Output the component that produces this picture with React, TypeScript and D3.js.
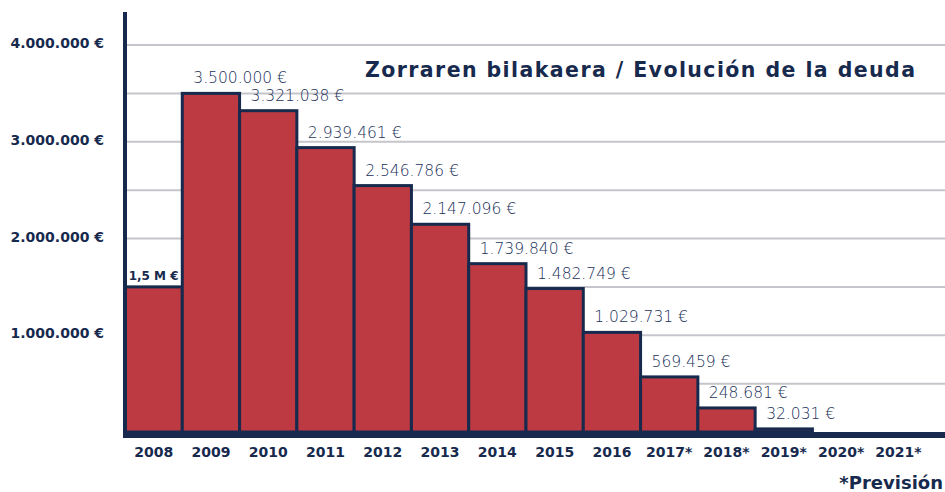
import React from "react";
import * as d3 from "d3";

const years = ["2008", "2009", "2010", "2011", "2012", "2013", "2014", "2015", "2016", "2017*", "2018*", "2019*", "2020*", "2021*"];
const debt = [1500000, 3500000, 3321038, 2939461, 2546786, 2147096, 1739840, 1482749, 1029731, 569459, 248681, 32031, 0, 0];
const valueLabels = ["1,5 M €", "3.500.000 €", "3.321.038 €", "2.939.461 €", "2.546.786 €", "2.147.096 €", "1.739.840 €", "1.482.749 €", "1.029.731 €", "569.459 €", "248.681 €", "32.031 €", "", ""];
const yTicks = [1000000, 2000000, 3000000, 4000000];
const yTickLabels = ["1.000.000 €", "2.000.000 €", "3.000.000 €", "4.000.000 €"];
const gridValues = [500000, 1000000, 1500000, 2000000, 2500000, 3000000, 3500000, 4000000];
const title = "Zorraren bilakaera / Evolución de la deuda";
const footnote = "*Previsión";

const W = 945;
const H = 492;
const NAVY = "#172a4e";
const RED = "#be3a43";
const GRID = "#c5c5cb";
const FONT = "'DejaVu Sans', sans-serif";

export default function App() {
  const x = d3.scaleBand<string>().domain(years).range([125, 927]).padding(0);
  const y = d3.scaleLinear().domain([0, 4000000]).range([432, 45]);

  return (
    <svg width={W} height={H} style={{ position: "absolute", left: 0, top: 0, background: "#fff" }}>
      {gridValues.map((v) => (
        <line key={v} x1={127} x2={W} y1={y(v)} y2={y(v)} stroke={GRID} strokeWidth={2} />
      ))}
      {years.map((yr, i) =>
        debt[i] > 0 ? (
          <rect
            key={yr}
            x={x(yr)!}
            y={y(debt[i])}
            width={x.bandwidth()}
            height={y(0) - y(debt[i])}
            fill={RED}
            stroke={NAVY}
            strokeWidth={3}
          />
        ) : null
      )}
      {years.map((yr, i) =>
        valueLabels[i] === "" ? null : i === 0 ? (
          <text
            key={"l" + yr}
            x={x(yr)! + x.bandwidth() / 2}
            y={y(debt[i]) - 7}
            textAnchor="middle"
            fontFamily={FONT}
            fontWeight="bold"
            fontSize={12}
            fill={NAVY}
          >
            {valueLabels[i]}
          </text>
        ) : (
          <text
            key={"l" + yr}
            x={x(yr)! + 11}
            y={y(debt[i]) - 10}
            fontFamily={FONT}
            fontWeight={200}
            fontSize={15.5}
            fill="#22315a"
          >
            {valueLabels[i]}
          </text>
        )
      )}
      <rect x={123} y={12} width={4} height={426} fill={NAVY} />
      <rect x={123} y={432} width={W - 123} height={6} fill={NAVY} />
      {yTicks.map((v, i) => (
        <text key={"t" + v} x={104} y={y(v) + 3} textAnchor="end" fontFamily={FONT} fontWeight="bold" fontSize={14} fill={NAVY}>
          {yTickLabels[i]}
        </text>
      ))}
      {years.map((yr) => (
        <text key={"x" + yr} x={x(yr)! + x.bandwidth() / 2} y={457} textAnchor="middle" fontFamily={FONT} fontWeight="bold" fontSize={14} fill={NAVY}>
          {yr}
        </text>
      ))}
      <text x={365} y={77} fontFamily={FONT} fontWeight="bold" fontSize={20.5} fill={NAVY} textLength={550}>
        {title}
      </text>
      <text x={943} y={489} textAnchor="end" fontFamily={FONT} fontWeight="bold" fontSize={18} fill={NAVY}>
        {footnote}
      </text>
    </svg>
  );
}
